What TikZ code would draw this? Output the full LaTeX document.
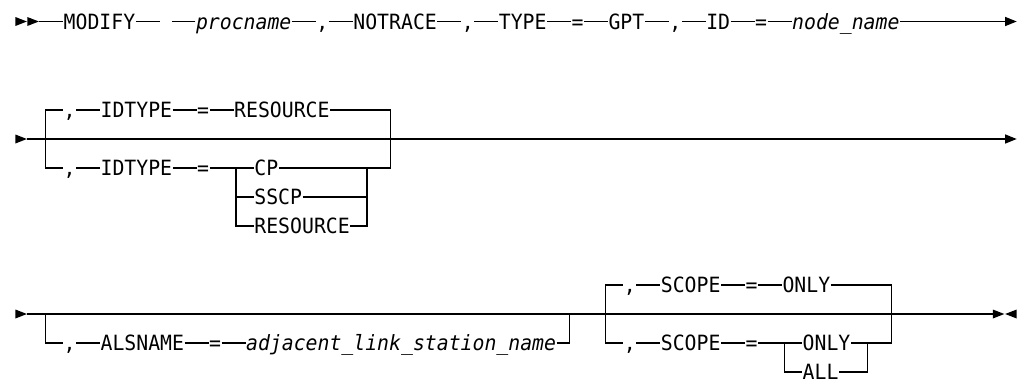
\documentclass[tikz,border=0pt]{standalone}
\usepackage{fontspec}
\newfontfamily\railfont[FakeStretch=0.943,
  ItalicFont={DejaVu Sans Mono Oblique}]{DejaVu Sans Mono}
\usetikzlibrary{arrows.meta,positioning}
% left edge of character cell number #1
\newcommand\cell[1]{15.4+11.92*#1}

\begin{document}
\begin{tikzpicture}[x=1pt, y=-1pt,
  kw/.style={inner sep=0pt, font=\railfont\fontsize{21}{24}\selectfont,
    text height=15.3pt, text depth=0pt},
  var/.style={kw, font=\railfont\fontsize{21}{24}\selectfont\itshape},
  pics/go/.style={code={\fill (0,-4.5) -- (11.5,0) -- (0,4.5) -- cycle;}},
  line width=1.2pt, >={Triangle[length=11.5pt,width=9pt]}, node distance=23.84pt]
\useasboundingbox (0,0) rectangle (1026,384);

% line 1
\pic at ({\cell{0}},21.5) {go};
\pic at ({\cell{1}},21.5) {go};
\coordinate (a0) at ({\cell{2}},21.5);
\coordinate (a1) at ({\cell{84}},21.5);
\node[kw, anchor=west] (modify) at ({\cell{4}},21.5) {MODIFY};
\node[var, right=59.6pt of modify] (proc) {procname};
\node[kw, right=of proc] (c1a) {,};
\node[kw, right=of c1a] (notrace) {NOTRACE};
\node[kw, right=of notrace] (c1b) {,};
\node[kw, right=of c1b] (type) {TYPE};
\node[kw, right=of type] (eq1a) {=};
\node[kw, right=of eq1a] (gpt) {GPT};
\node[kw, right=of gpt] (c1c) {,};
\node[kw, right=of c1c] (id) {ID};
\node[kw, right=of id] (eq1b) {=};
\node[var, right=of eq1b] (nodename) {node\_name};
\draw (a0) -- (modify.west);
\draw (modify.east) -- ++(23.84,0);
\draw (proc.west) -- ++(-23.84,0);
\draw (proc) -- (c1a) -- (notrace) -- (c1b) -- (type) -- (eq1a) -- (gpt)
  -- (c1c) -- (id) -- (eq1b) -- (nodename);
\draw[->] (nodename) -- (a1);

% line 2
\pic at ({\cell{0}},139) {go};
\coordinate (b0) at ({\cell{1}},139);
\coordinate (b1) at ({\cell{84}},139);
\coordinate (bl) at ({\cell{2.5}},139);
\coordinate (br) at ({\cell{31.5}},139);
\draw[->] (b0) -- (b1);
\node[kw, anchor=west] (c2a) at ({\cell{4}},110) {,};
\node[kw, right=of c2a] (idt2a) {IDTYPE};
\node[kw, right=of idt2a] (eq2a) {=};
\node[kw, right=of eq2a] (res2a) {RESOURCE};
\draw (bl) |- (c2a) -- (idt2a) -- (eq2a) -- (res2a) -| (br);
\node[kw, anchor=west] (c2b) at ({\cell{4}},168) {,};
\node[kw, right=of c2b] (idt2b) {IDTYPE};
\node[kw, right=of idt2b] (eq2b) {=};
\node[kw, anchor=west] (cp) at ({\cell{20}},168) {CP};
\node[kw, anchor=west] (sscp) at ({\cell{20}},197) {SSCP};
\node[kw, anchor=west] (res2b) at ({\cell{20}},226) {RESOURCE};
\coordinate (sl) at ({\cell{18.5}},168);
\coordinate (sr) at ({\cell{29.5}},168);
\draw (bl) |- (c2b) -- (idt2b) -- (eq2b) -- (cp) -| (br);
\draw (sl) |- (sscp) -| (sr);
\draw (sl) |- (res2b) -| (sr);

% line 3
\pic at ({\cell{0}},314) {go};
\coordinate (d0) at ({\cell{1}},314);
\coordinate (d1) at ({\cell{82}},314);
\draw (d0) -- (d1);
\pic at (d1) {go};
\pic[xscale=-1] at ({\cell{84}},314) {go};
\coordinate (k0) at ({\cell{74}},314);
\coordinate (k1) at ({\cell{76}},314);
\draw[line width=2.2pt] (k0) -- (k1);
\coordinate (el) at ({\cell{2.5}},314);
\coordinate (er) at ({\cell{46.5}},314);
\node[kw, anchor=west] (c3) at ({\cell{4}},343) {,};
\node[kw, right=of c3] (als) {ALSNAME};
\node[kw, right=of als] (eq3) {=};
\node[var, right=of eq3] (adj) {adjacent\_link\_station\_name};
\draw (el) |- (c3) -- (als) -- (eq3) -- (adj) -| (er);
\coordinate (fl) at ({\cell{49.5}},314);
\coordinate (fr) at ({\cell{73.5}},314);
\node[kw, anchor=west] (c3a) at ({\cell{51}},285) {,};
\node[kw, right=of c3a] (scope3a) {SCOPE};
\node[kw, right=of scope3a] (eq3a) {=};
\node[kw, right=of eq3a] (only3a) {ONLY};
\draw (fl) |- (c3a) -- (scope3a) -- (eq3a) -- (only3a) -| (fr);
\node[kw, anchor=west] (c3b) at ({\cell{51}},343) {,};
\node[kw, right=of c3b] (scope3b) {SCOPE};
\node[kw, right=of scope3b] (eq3b) {=};
\node[kw, anchor=west] (only3b) at ({\cell{66}},343) {ONLY};
\node[kw, anchor=west] (all3) at ({\cell{66}},372) {ALL};
\coordinate (gl) at ({\cell{64.5}},343);
\coordinate (gr) at ({\cell{71.5}},343);
\draw (fl) |- (c3b) -- (scope3b) -- (eq3b) -- (only3b) -| (fr);
\draw (gl) |- (all3) -| (gr);
\end{tikzpicture}
\end{document}
